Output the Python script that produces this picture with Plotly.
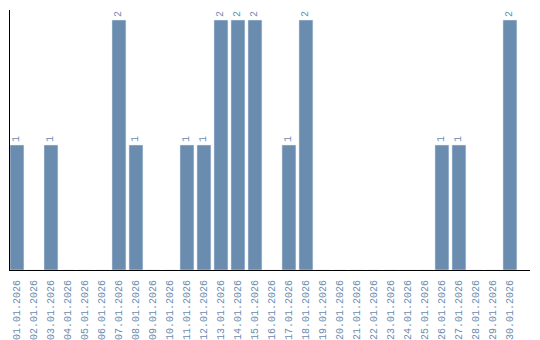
import plotly.graph_objects as go

dates = [f"{d:02d}.01.2026" for d in range(1, 31)]
values = [1, 0, 1, 0, 0, 0, 2, 1, 0, 0, 1, 1, 2, 2, 2, 0, 1, 2, 0, 0, 0, 0, 0, 0, 0, 1, 1, 0, 0, 2]

bar_color = "#6a8caf"
text_color = "#6a8caf"
font_family = "Liberation Mono"

labels = [str(v) if v else "" for v in values]
xs = list(range(len(dates)))

fig = go.Figure(go.Bar(
    x=xs, y=values, marker_color=bar_color, width=0.82,
    text=labels, textposition="outside", textangle=-90,
    textfont=dict(family=font_family, size=10, color=text_color),
    cliponaxis=False,
))
fig.update_layout(
    width=540, height=340, margin=dict(l=10, r=10, t=10, b=70),
    plot_bgcolor="white", paper_bgcolor="white", showlegend=False,
    xaxis=dict(tickmode="array", tickvals=xs, ticktext=dates, tickangle=-90,
               range=[-0.41, 30.18], showline=True, linecolor="black", linewidth=1,
               showgrid=False, zeroline=False, ticks="", ticklabelstandoff=5,
               automargin=False,
               tickfont=dict(family=font_family, size=10, color=text_color)),
    yaxis=dict(range=[0, 2.08], showline=True, linecolor="black", linewidth=1,
               showgrid=False, zeroline=False, showticklabels=False, ticks="",
               automargin=False),
)
fig.write_html("out.html")
